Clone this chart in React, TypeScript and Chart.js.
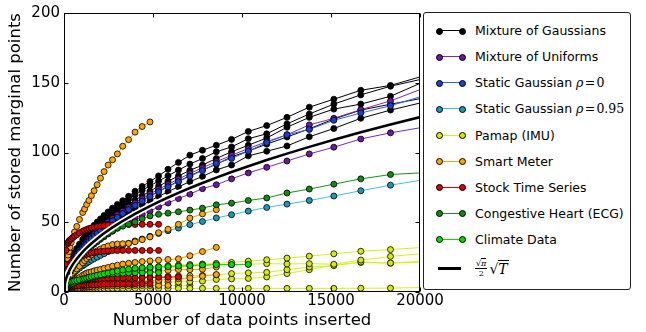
import React, { useEffect, useRef } from 'react';
import { Chart, registerables } from 'chart.js';

Chart.register(...registerables);

// Number of data points inserted at which every run was sampled
const INSERTED = [1, 45, 118, 189, 229, 277, 335, 405, 490, 593, 718, 869, 1051, 1156, 1272, 1399, 1539, 1693, 1862, 2048, 2253, 2479, 2726, 2999, 3299, 3629, 3992, 4391, 4830, 5313, 5844, 6429, 7072, 7779, 8557, 9412, 10354, 11389, 12528, 13781, 15159, 16675, 18342, 20176];

const X_TICKS = [0, 5000, 10000, 15000, 20000];
const Y_TICKS = [0, 50, 100, 150, 200];

// sqrt(pi)/2 * sqrt(T) reference curve, read at the same T
const SQRT_CURVE = [0.89, 5.94, 9.63, 12.18, 13.41, 14.75, 16.22, 17.83, 19.62, 21.58, 23.75, 26.12, 28.73, 30.13, 31.61, 33.14, 34.77, 36.47, 38.24, 40.10, 42.07, 44.12, 46.27, 48.53, 50.90, 53.39, 55.99, 58.72, 61.59, 64.60, 67.75, 71.06, 74.53, 78.16, 81.97, 85.98, 90.17, 94.58, 99.19, 104.03, 109.11, 114.44, 120.02, 125.88];

// Mixture of Gaussians (5 runs)
const GAUSS_1 = [1, 7.5, 12.5, 16, 17.6, 19.4, 21.3, 23.4, 25.8, 28.4, 31.2, 34.3, 37.7, 39.6, 41.5, 43.5, 45.6, 47.8, 50.1, 52.4, 54.9, 57.4, 60.1, 62.8, 65.5, 68.6, 72.2, 75.7, 79.2, 83.2, 88.0, 92.9, 98.1, 101.6, 105.2, 109.4, 115.1, 119.3, 125.2, 132.5, 138.2, 144.6, 148.1, 154.8];
const GAUSS_2 = [1, 7.2, 12, 15.2, 16.7, 18.4, 20.2, 22.2, 24.4, 26.8, 29.5, 32.4, 35.7, 37.4, 39.2, 41.1, 43.1, 45.3, 47.5, 49.8, 52.2, 54.8, 57.4, 60.2, 63.2, 66.3, 69.5, 72.9, 76.1, 79.5, 83.3, 87.4, 91.7, 95.7, 100.5, 104, 109.9, 113.4, 120.5, 127.6, 134.7, 141.3, 147.5, 152.8];
const GAUSS_3 = [1, 7, 11.4, 14.4, 15.8, 17.4, 19.1, 21, 23.1, 25.4, 28, 30.8, 33.8, 35.5, 37.2, 39, 40.9, 42.9, 45, 47.2, 49.5, 51.9, 54.4, 57.1, 59.9, 62.8, 65.8, 69, 72.3, 75.8, 79.4, 83.2, 87.2, 91, 95.7, 100.5, 105.2, 110.4, 118.1, 125.2, 131.1, 134.7, 140.3, 150.5];
const GAUSS_4 = [1, 6.6, 10.8, 13.7, 15.1, 16.6, 18.2, 20, 22, 24.2, 26.6, 29.3, 32.2, 33.8, 35.4, 37.1, 38.9, 40.8, 42.8, 44.9, 47.1, 49.4, 51.8, 54.3, 56.9, 59.7, 62.6, 65.6, 68.8, 72.2, 75.7, 79.4, 83.3, 87.5, 91.5, 96.9, 101, 106, 111.1, 117, 124, 130.4, 134.6, 139];
const GAUSS_5 = [1, 6.3, 10.2, 12.9, 14.2, 15.6, 17.2, 18.9, 20.8, 22.9, 25.2, 27.7, 30.5, 32, 33.5, 35.2, 36.9, 38.7, 40.6, 42.5, 44.6, 46.8, 49.1, 51.5, 54, 56.6, 59.4, 62.3, 65.3, 68.5, 71.9, 75.4, 79.1, 82.8, 87.5, 91, 97.6, 100.9, 104.7, 111.3, 117.2, 124.5, 130.4, 136];

// Mixture of Uniforms (2 runs)
const UNIF_1 = [1, 6.8, 11, 13.9, 15.3, 16.8, 18.5, 20.3, 22.4, 24.6, 27.1, 29.8, 32.7, 34.3, 36, 37.8, 39.6, 41.6, 43.6, 45.7, 47.9, 50.3, 52.7, 55.3, 58, 60.8, 63.8, 66.9, 70.2, 73.6, 77.2, 81, 84.9, 89.1, 93.4, 98, 102.8, 107.8, 112.7, 119.8, 124.5, 130.7, 137, 145.9];
const UNIF_2 = [1, 5.6, 9.1, 11.5, 12.6, 13.9, 15.3, 16.8, 18.5, 20.3, 22.4, 24.6, 27.1, 28.4, 29.8, 31.2, 32.8, 34.4, 36, 37.8, 39.6, 41.6, 43.6, 45.7, 48, 50.3, 52.8, 55.3, 58, 60.9, 63.8, 67, 70.2, 74.1, 76.9, 81.1, 85.4, 89.4, 93.9, 99, 103.8, 109.7, 114.1, 118.1];

// Static Gaussian rho = 0 and rho = 0.95
const STATIC_0 = [1, 6.4, 10.5, 13.3, 14.6, 16.1, 17.7, 19.4, 21.4, 23.5, 25.9, 28.5, 31.3, 32.9, 34.6, 36.3, 38.1, 40, 42, 44.1, 46.3, 48.6, 51, 53.6, 56.3, 59.1, 62, 65.1, 68.4, 71.8, 75.4, 79.1, 83, 87, 92.2, 95.7, 101, 107.1, 112.7, 116.5, 123.1, 128.3, 133.5, 140.6];
const STATIC_095 = [1, 3.9, 6.3, 8, 8.8, 9.7, 10.6, 11.7, 12.8, 14.1, 15.5, 17.1, 18.8, 19.7, 20.7, 21.7, 22.8, 23.9, 25, 26.2, 27.5, 28.9, 30.3, 31.8, 33.3, 34.9, 36.6, 38, 39.9, 42, 43.9, 45.8, 48.3, 50.5, 53.1, 55.4, 58, 60.6, 63, 65.6, 68.8, 72.6, 76.6, 80.4];

// Pamap (IMU) runs
const PAMAP_1 = [1, 2.5, 3.5, 4.2, 4.6, 5, 5.5, 6, 6.6, 7.2, 7.9, 8.6, 9.4, 9.8, 10.2, 10.6, 11, 11.5, 12, 12.5, 13, 13.5, 14, 14.6, 15.2, 15.8, 16.4, 17, 17.6, 18.2, 18.8, 19.3, 19.7, 20.1, 20.5, 21.2, 22.1, 23.1, 24.3, 25.7, 27.4, 29.2, 30.4, 32];
const PAMAP_2 = [1, 2.3, 3.2, 3.8, 4.1, 4.5, 5, 5.4, 5.9, 6.5, 7.1, 7.7, 8.4, 8.8, 9.2, 9.6, 10, 10.4, 10.9, 11.4, 11.9, 12.4, 12.9, 13.5, 14.1, 14.7, 15.3, 15.9, 16.5, 17.1, 17.6, 18.1, 18.5, 18.9, 19.3, 19.6, 20, 20.3, 20.1, 20.3, 19.9, 22.9, 25.5, 27.6];
const PAMAP_3 = [1, 1.8, 2.4, 2.8, 3, 3.3, 3.6, 3.9, 4.3, 4.7, 5.1, 5.5, 6, 6.3, 6.6, 6.9, 7.2, 7.5, 7.8, 8.1, 8.4, 8.7, 9, 9.3, 9.6, 9.9, 10.2, 10.5, 10.8, 11, 11.2, 11.4, 11.6, 11.9, 12.3, 13.2, 13.7, 14.1, 16, 17.9, 18.9, 21.5, 20.8, 22.1];
const PAMAP_4 = [1, 1.5, 1.9, 2.2, 2.4, 2.6, 2.8, 3, 3.3, 3.6, 3.9, 4.2, 4.5, 4.7, 4.9, 5.1, 5.3, 5.5, 5.7, 5.9, 6.1, 6.2, 6.3, 6.4, 6.5, 6.6, 6.7, 6.8, 6.9, 7, 7.1, 7.2, 7.4, 7.8, 9, 9.4, 9.7, 10.8, 13.2, 16, 19.3, 21.2, 20.6, 21.5];
const PAMAP_5 = [1, 1.5, 1.9, 2.1, 2.2, 2.3, 2.3, 2.4, 2.4, 2.5, 2.5, 2.5, 2.6, 2.6, 2.6, 2.6, 2.6, 2.6, 2.6, 2.6, 2.6, 2.6, 2.6, 2.6, 2.6, 2.6, 2.6, 2.6, 2.6, 2.6, 2.6, 2.6, 2.6, 2.6, 2.6, 2.6, 2.6, 2.6, 2.6, 2.6, 2.6, 2.7, 2.8, 3.2];
const PAMAP_6 = [1, 1.3, 1.6, 1.8, 1.9, 2, 2.1, 2.2, 2.3, 2.4, 2.6, 2.8, 3, 3.1, 3.2, 3.3, 3.4, 3.5, 3.6, 3.7, 3.8, 3.9, 4, 4.1, 4.2, 4.3, 4.4, 4.5, 4.5, 4.6, 4.6, 4.7, 4.7];

// Smart Meter runs
const SMART_1 = [1, 11.5, 19, 24, 26.5, 29, 32, 35.5, 39, 43, 47, 52, 57, 59.5, 62.7, 65.6, 69, 72.6, 76.9, 81.6, 86.3, 91, 94.8, 99, 104.5, 109.2, 114.6, 118.6, 121.9];
const SMART_2 = [1, 5, 7.5, 9, 9.8, 10.6, 11.5, 12.5, 13.6, 15, 16.6, 18.5, 21, 22.5, 24, 25.3, 26.6, 28, 29.5, 30.8, 32, 33, 34, 34.4, 34.6, 34.8, 36, 37.5, 39.5, 42.5, 45, 48.5, 53, 56, 59];
const SMART_3 = [1, 3, 4.5, 5.5, 6, 6.5, 7, 7.5, 8, 8.8, 9.6, 10.4, 12, 12.7, 13.5, 14, 14.5, 15.1, 15.7, 16.2, 17, 17.6, 18.5, 19.2, 20, 20.6, 21.2, 21.8, 22.3, 22.8, 23.3, 23.8, 26, 29, 32];
const SMART_4 = [1, 2.5, 3.5, 4.2, 4.6, 5, 5.4, 5.8, 6.2, 6.7, 7.2, 7.7, 8.3, 8.7, 9.1, 9.5, 9.9, 10.3, 10.7, 11.1, 11.5, 11.9, 12.3, 12.7, 13.1, 13.5, 13.9, 14.2, 14.5, 15, 15.5, 16, 16, 16.3, 17.9];
const SMART_5 = [1, 2, 2.6, 3, 3.2, 3.4, 3.6, 3.8, 4, 4.3, 4.6, 4.9, 5.2, 5.4, 5.6, 5.8, 6, 6.2, 6.4, 6.6, 6.8, 7, 7.1, 7.2, 7.3, 7.4, 7.5, 7.6, 7.8, 8.3, 9, 9.5, 10.1, 11.3, 12.5];
const SMART_6 = [1, 1.6, 2, 2.3, 2.5, 2.7, 2.9, 3, 3.1, 3.2, 3.3, 3.4, 3.5, 3.6, 3.7, 3.8, 3.9, 4, 4.1, 4.2, 4.3, 4.4, 4.5, 4.5, 4.6, 4.6, 4.7, 4.7, 4.7, 4.7, 4.7];

// Stock Time Series runs
const STOCK_1 = [1, 20, 30, 34.5, 35.5, 36.5, 37.3, 38, 39, 40, 41, 42.5, 43.5, 44.2, 44.8, 45.5, 46, 46.5, 47, 47.3, 47.6, 47.8, 48, 48.2, 48.3, 48.4, 48.4, 48.5, 48.5, 48.5];
const STOCK_2 = [1, 9, 14, 17, 18, 19, 20, 21, 22, 23, 24, 25, 26, 26.5, 27, 27.5, 28, 28.3, 28.7, 29, 29.3, 29.5, 29.7, 29.7, 29.8, 29.8, 29.8, 29.8, 29.8, 29.8];
const STOCK_3 = [1, 3, 4.5, 5.5, 6, 6.3, 6.7, 7, 7.4, 7.8, 8.1, 8.4, 8.7, 8.9, 9.1, 9.3, 9.4, 9.5, 9.6, 9.7, 9.8, 9.9, 10, 10, 10.1, 10.2, 10.2, 10.3, 10.4, 10.5, 10.6, 10.8];
const STOCK_4 = [1, 2, 2.8, 3.2, 3.4, 3.6, 3.8, 4, 4.1, 4.3, 4.4, 4.6, 4.7, 4.8, 4.9, 5, 5.1, 5.2, 5.3, 5.4, 5.5, 5.5, 5.6, 5.7, 5.8, 5.8, 5.9, 6, 6];

// Congestive Heart (ECG)
const HEART_1 = [1, 6, 9, 11, 12, 13, 14.5, 15.8, 17.5, 19.8, 22, 25, 28, 29.5, 31, 32.3, 33.8, 35.3, 36.8, 38.6, 40.5, 42.2, 44, 45.8, 47.2, 48.6, 50.2, 52.5, 54.5, 55.7, 56.5, 57.5, 58.7, 60.1, 62.5, 63.7, 65.6, 67.4, 71, 73.8, 77.3, 81.1, 84.2, 85.5];

// Climate Data runs
const CLIMATE_1 = [1, 3, 4.5, 5.5, 6, 6.4, 6.8, 7.2, 7.6, 8, 8.4, 8.8, 9.3, 9.7, 10.1, 10.5, 11, 11.5, 12, 12.5, 13, 13.6, 14.3, 15, 15.8, 16.4, 17, 17.4, 17.8, 18, 18.2, 18.6, 18.9, 19.4, 19.6, 19.7, 19.8];
const CLIMATE_2 = [1, 2.5, 3.5, 4, 4.4, 4.8, 5.2, 5.7, 6.2, 6.8, 7.4, 8, 8.7, 9.1, 9.5, 9.9, 10.4, 10.9, 11.4, 11.9, 12.3, 12.7, 13, 13.3, 13.5, 13.7, 13.8, 13.9, 14, 14];

const LEGEND_LABELS = ['Mixture of Gaussians', 'Mixture of Uniforms', 'Static Gaussian', 'Static Gaussian', 'Pamap (IMU)', 'Smart Meter', 'Stock Time Series', 'Congestive Heart (ECG)', 'Climate Data'];

const FONT = '"DejaVu Sans", sans-serif';
const SERIF = '"DejaVu Serif", serif';

const C = {
  gauss: { line: '#000000', dot: '#000000' },
  unif: { line: '#7a2bb5', dot: '#6c1a9a' },
  s0: { line: '#2f62f0', dot: '#1c3fd0' },
  s95: { line: '#45c0dc', dot: '#1e98b8' },
  pamap: { line: '#d8f020', dot: '#d4ec00' },
  smart: { line: '#ffa200', dot: '#ffa500' },
  stock: { line: '#e00000', dot: '#dd0000' },
  heart: { line: '#159515', dot: '#148a14' },
  climate: { line: '#00e000', dot: '#00dd00' },
};

function toPoints(vals: number[]) {
  return vals.map((v, i) => ({ x: INSERTED[i], y: v }));
}

function run(vals: number[], col: { line: string; dot: string }) {
  return {
    data: toPoints(vals),
    borderColor: col.line,
    backgroundColor: col.dot,
    pointBackgroundColor: col.dot,
    pointBorderColor: '#000000',
    pointBorderWidth: 0.8,
    pointRadius: 3,
    borderWidth: 1,
    tension: 0,
  };
}

const framePlugin = {
  id: 'frame',
  afterDatasetsDraw(chart: any) {
    const { ctx, chartArea: a, scales } = chart;
    ctx.save();
    ctx.strokeStyle = '#000';
    ctx.lineWidth = 1;
    const L = Math.round(a.left) + 0.5;
    const R = Math.round(a.right) - 0.5;
    const T = Math.round(a.top) + 0.5;
    const B = Math.round(a.bottom) - 0.5;
    ctx.strokeRect(L, T, R - L, B - T);
    ctx.beginPath();
    X_TICKS.forEach((v) => {
      const px = Math.round(scales.x.getPixelForValue(v)) + 0.5;
      ctx.moveTo(px, B); ctx.lineTo(px, B - 4);
      ctx.moveTo(px, T); ctx.lineTo(px, T + 4);
    });
    Y_TICKS.forEach((v) => {
      const py = Math.round(scales.y.getPixelForValue(v)) + 0.5;
      ctx.moveTo(L, py); ctx.lineTo(L + 4, py);
      ctx.moveTo(R, py); ctx.lineTo(R - 4, py);
    });
    ctx.stroke();
    ctx.restore();
  },
};

function LegendRow({ top, line, dot, thick, children }: any) {
  return (
    <div style={{ position: 'absolute', left: 0, top: top - 10, height: 20, width: 205, display: 'flex', alignItems: 'center' }}>
      <div style={{ position: 'absolute', left: 14, top: 10 - (thick ? 1.5 : 0.5), width: 23, height: thick ? 3 : 1, background: line }} />
      {!thick && (
        <>
          <div style={{ position: 'absolute', left: 11.5, top: 7, width: 5, height: 5, borderRadius: '50%', background: dot, border: '0.7px solid #000' }} />
          <div style={{ position: 'absolute', left: 34.5, top: 7, width: 5, height: 5, borderRadius: '50%', background: dot, border: '0.7px solid #000' }} />
        </>
      )}
      <div style={{ position: 'absolute', left: 51, top: 0, height: 20, display: 'flex', alignItems: 'center', whiteSpace: 'nowrap' }}>{children}</div>
    </div>
  );
}

export default function App() {
  const ref = useRef<HTMLCanvasElement | null>(null);

  useEffect(() => {
    if (!ref.current) return;
    const datasets: any[] = [
      { data: toPoints(SQRT_CURVE), borderColor: '#000000', borderWidth: 2.6, pointRadius: 0, tension: 0 },
      { data: toPoints(SQRT_CURVE), borderColor: '#ffffff', borderWidth: 6, pointRadius: 0, tension: 0 },
      run(CLIMATE_1, C.climate),
      run(CLIMATE_2, C.climate),
      run(HEART_1, C.heart),
      run(STOCK_1, C.stock),
      run(STOCK_2, C.stock),
      run(STOCK_3, C.stock),
      run(STOCK_4, C.stock),
      run(SMART_1, C.smart),
      run(SMART_2, C.smart),
      run(SMART_3, C.smart),
      run(SMART_4, C.smart),
      run(SMART_5, C.smart),
      run(SMART_6, C.smart),
      run(PAMAP_1, C.pamap),
      run(PAMAP_2, C.pamap),
      run(PAMAP_3, C.pamap),
      run(PAMAP_4, C.pamap),
      run(PAMAP_5, C.pamap),
      run(PAMAP_6, C.pamap),
      run(STATIC_095, C.s95),
      run(STATIC_0, C.s0),
      run(UNIF_1, C.unif),
      run(UNIF_2, C.unif),
      run(GAUSS_1, C.gauss),
      run(GAUSS_2, C.gauss),
      run(GAUSS_3, C.gauss),
      run(GAUSS_4, C.gauss),
      run(GAUSS_5, C.gauss),
    ];
    const chart = new Chart(ref.current, {
      type: 'line',
      data: { datasets },
      options: {
        animation: false,
        responsive: false,
        maintainAspectRatio: false,
        events: [],
        layout: { padding: { left: 0, right: 226, top: 9, bottom: 0 } },
        plugins: { legend: { display: false }, tooltip: { enabled: false } },
        scales: {
          x: {
            type: 'linear',
            min: 0,
            max: 20000,
            afterBuildTicks: (s: any) => { s.ticks = X_TICKS.map((v) => ({ value: v })); },
            afterFit: (s: any) => { s.height = 40; },
            ticks: { color: '#000', font: { family: FONT, size: 15 }, padding: 0, maxRotation: 0, autoSkip: false, callback: (v: any) => String(v) },
            grid: { display: false, drawTicks: false },
            border: { display: false },
            title: { display: true, text: 'Number of data points inserted', color: '#000', font: { family: FONT, size: 16.5 }, padding: { top: 0, bottom: 1 } },
          },
          y: {
            type: 'linear',
            min: 0,
            max: 200,
            afterBuildTicks: (s: any) => { s.ticks = Y_TICKS.map((v) => ({ value: v })); },
            afterFit: (s: any) => { s.width = 64; },
            ticks: { color: '#000', font: { family: FONT, size: 15 }, padding: 4, callback: (v: any) => String(v) },
            grid: { display: false, drawTicks: false },
            border: { display: false },
            title: { display: true, text: 'Number of stored marginal points', color: '#000', font: { family: FONT, size: 16.5 }, padding: { top: 6, bottom: 0 } },
          },
        },
      },
      plugins: [framePlugin],
    } as any);
    return () => chart.destroy();
  }, []);

  const mathStyle = { fontFamily: SERIF, fontSize: 12.5 };
  const rows = [
    { line: C.gauss.line, dot: C.gauss.dot, top: 17.5, label: <span>{LEGEND_LABELS[0]}</span> },
    { line: C.unif.line, dot: C.unif.dot, top: 43.5, label: <span>{LEGEND_LABELS[1]}</span> },
    { line: C.s0.line, dot: C.s0.dot, top: 69.5, label: <span>{LEGEND_LABELS[2]} <span style={mathStyle}><i>ρ</i>{'\u200a=\u200a'}0</span></span> },
    { line: C.s95.line, dot: C.s95.dot, top: 95.5, label: <span>{LEGEND_LABELS[3]} <span style={mathStyle}><i>ρ</i>{'\u200a=\u200a'}0.95</span></span> },
    { line: C.pamap.line, dot: C.pamap.dot, top: 122, label: <span>{LEGEND_LABELS[4]}</span> },
    { line: C.smart.line, dot: C.smart.dot, top: 148, label: <span>{LEGEND_LABELS[5]}</span> },
    { line: C.stock.line, dot: C.stock.dot, top: 174, label: <span>{LEGEND_LABELS[6]}</span> },
    { line: C.heart.line, dot: C.heart.dot, top: 200, label: <span>{LEGEND_LABELS[7]}</span> },
    { line: C.climate.line, dot: C.climate.dot, top: 226, label: <span>{LEGEND_LABELS[8]}</span> },
  ];

  return (
    <div style={{ position: 'absolute', left: 0, top: 0, width: 646, height: 332, background: '#fff', overflow: 'hidden' }}>
      <canvas ref={ref} width={646} height={332} style={{ position: 'absolute', left: 0, top: 0, width: 646, height: 332 }} />
      <div style={{ position: 'absolute', left: 423, top: 12, width: 206, height: 276, border: '1px solid #222', borderRadius: 3, background: '#fff', fontFamily: FONT, fontSize: 12.5, color: '#000' }}>
        {rows.map((r, i) => (
          <LegendRow key={i} top={r.top} line={r.line} dot={r.dot}>{r.label}</LegendRow>
        ))}
        <LegendRow top={255.5} line="#000" dot="#000" thick>
          <span style={{ display: 'inline-flex', alignItems: 'center', fontFamily: SERIF }}>
            <span style={{ display: 'inline-flex', flexDirection: 'column', alignItems: 'center', fontSize: 8, lineHeight: '9px', marginRight: 2 }}>
              <span style={{ borderBottom: '0.8px solid #000', padding: '0 1px' }}>√<span style={{ borderTop: '0.8px solid #000', fontStyle: 'italic' }}>π</span></span>
              <span>2</span>
            </span>
            <span style={{ fontSize: 14 }}>√<span style={{ borderTop: '1px solid #000', fontStyle: 'italic', paddingRight: 1 }}>T</span></span>
          </span>
        </LegendRow>
      </div>
    </div>
  );
}
